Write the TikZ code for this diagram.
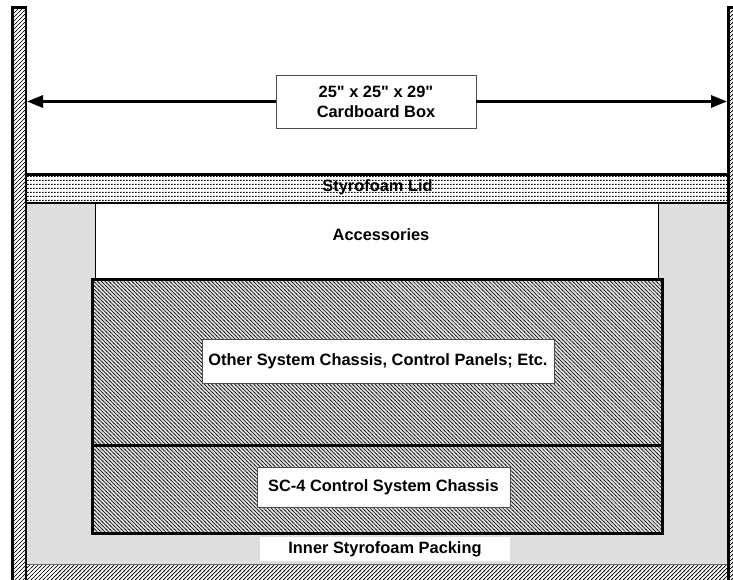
\documentclass[tikz,border=0pt]{standalone}
\usepackage{fontspec}
\setmainfont{Liberation Sans}[Ligatures=TeXOff]
\usetikzlibrary{patterns,arrows.meta}

\pgfdeclarepatternformonly{wallhatch}{\pgfqpoint{-1pt}{-1pt}}{\pgfqpoint{5pt}{5pt}}{\pgfqpoint{4pt}{4pt}}{%
  \pgfsetlinewidth{0.7pt}%
  \pgfpathmoveto{\pgfqpoint{-0.5pt}{-0.5pt}}\pgfpathlineto{\pgfqpoint{4.5pt}{4.5pt}}\pgfusepath{stroke}}
\pgfdeclarepatternformonly{chassishatch}{\pgfqpoint{-1pt}{-1pt}}{\pgfqpoint{4.8pt}{4.8pt}}{\pgfqpoint{3.8pt}{3.8pt}}{%
  \pgfsetlinewidth{0.5pt}%
  \pgfpathmoveto{\pgfqpoint{-0.5pt}{4.3pt}}\pgfpathlineto{\pgfqpoint{4.3pt}{-0.5pt}}\pgfusepath{stroke}}
\pgfdeclarepatternformonly{lidpat}{\pgfqpoint{0pt}{0pt}}{\pgfqpoint{3pt}{3.6pt}}{\pgfqpoint{3pt}{3.6pt}}{%
  \pgfpathrectangle{\pgfqpoint{0pt}{0pt}}{\pgfqpoint{2pt}{1.1pt}}\pgfusepath{fill}}

\begin{document}
\begin{tikzpicture}[x=1pt,y=-1pt,
  lbl/.style={font=\bfseries\fontsize{16.4}{20}\selectfont, align=center, inner sep=0pt},
  lblbox/.style={lbl, fill=white, draw=black!70, line width=0.8pt},
  plainbox/.style={lbl, fill=white},
  chassis/.style={draw, line width=3pt, pattern=chassishatch, inner sep=0pt},
  wall/.style={draw, line width=2.5pt, pattern=wallhatch},
  packing/.style={fill=black!13},
  arr/.style={line width=3pt, -{Triangle[length=16pt,width=12pt]}}]
\useasboundingbox (0,0) rectangle (733,579);

% inner styrofoam packing
\fill[packing] (27,203) rectangle (727,565);
% accessories area
\fill[white] (95.5,203) rectangle (658.5,279);
\draw[line width=1pt] (95.5,203) -- (95.5,279) (658.5,203) -- (658.5,279);
% bottom of cardboard box
\fill[pattern=wallhatch] (27,565) rectangle (727,592);
\draw[black!60, line width=1.5pt] (27,564.5) -- (727,564.5);
% walls
\path[wall] (12.5,7.25) rectangle (26,595);
\path[wall] (728.25,7.25) rectangle (745,595);
% lid
\fill[pattern=lidpat] (27,173) rectangle (727,203);
\draw[line width=3pt] (27,174.2) -- (727,174.2);
\draw[line width=2pt] (27,202.5) -- (727,202.5);
\node[lbl] (lid) at (377.5,187) {Styrofoam Lid};

% chassis
\node[chassis, minimum width=570.4pt, minimum height=166.3pt] (other) at (377.5,362.15) {};
\node[chassis, minimum width=570.4pt, minimum height=88.4pt] (sc4) at (377.5,489.5) {};

% labels
\node[lbl] (acc) at (381,235) {Accessories};
\node[lblbox, minimum width=352pt, minimum height=44pt] (otherlbl) at (378,361) {Other System Chassis, Control Panels; Etc.};
\node[lblbox, minimum width=253pt, minimum height=40pt] (sc4lbl) at (383.5,487.5) {SC-4 Control System Chassis};
\node[plainbox, minimum width=250pt, minimum height=24pt] (pack) at (385,549.3) {Inner Styrofoam Packing};

% cardboard box dimension
\node[lblbox, minimum width=200pt, minimum height=53pt] (cb) at (376,101.5) {25" x 25" x 29"\\Cardboard Box};
\coordinate (lw) at (27,101.5);
\coordinate (rw) at (727,101.5);
\draw[arr] (cb.west) -- (lw);
\draw[arr] (cb.east) -- (rw);
\end{tikzpicture}
\end{document}
